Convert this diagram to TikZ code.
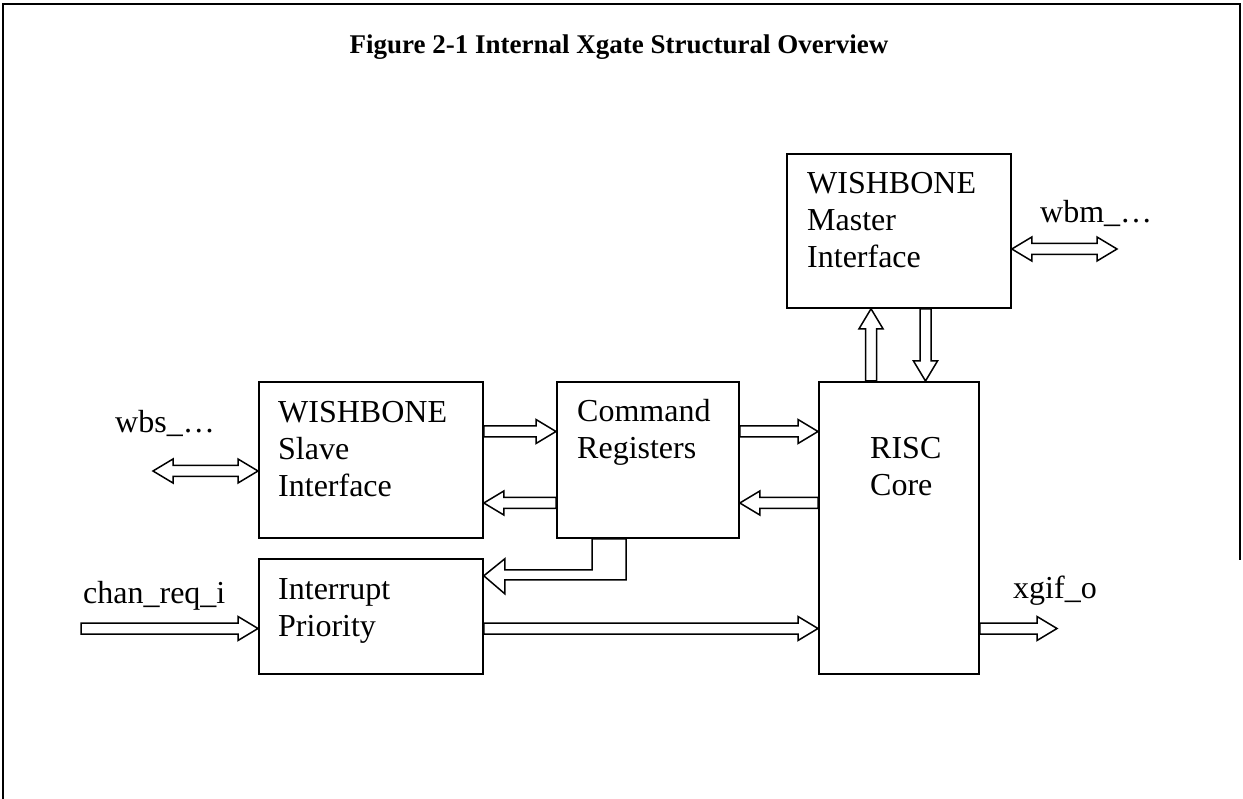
\documentclass[tikz,border=0pt]{standalone}
\usepackage{fontspec}
\setmainfont{Liberation Serif}
\usetikzlibrary{calc}
\tikzset{
  box/.style={draw, line width=1.8pt, rectangle, inner sep=0pt, anchor=north west},
  lbl/.style={font=\fontsize{32}{37}\selectfont, inner sep=0pt, align=left, anchor=north west},
  sig/.style={font=\fontsize{32}{37}\selectfont, inner sep=0pt, anchor=base west},
  barrow/.style={draw, line width=1.5pt, fill=white, line join=miter},
}
% horizontal single block arrow: tail #1, tip #2
\newcommand\harr[2]{%
 \draw[barrow] let \p1=#1, \p2=#2, \n1={2*(\x2>\x1)-1} in
  (\x1,\y1+5.5pt) -- ({\x2-\n1*20pt},\y1+5.5pt) -- ({\x2-\n1*20pt},\y1+12pt) -- (\x2,\y1)
  -- ({\x2-\n1*20pt},\y1-12pt) -- ({\x2-\n1*20pt},\y1-5.5pt) -- (\x1,\y1-5.5pt) -- cycle;}
% vertical single block arrow: tail #1, tip #2
\newcommand\varr[2]{%
 \draw[barrow] let \p1=#1, \p2=#2, \n1={2*(\y2>\y1)-1} in
  (\x1+5.5pt,\y1) -- (\x1+5.5pt,{\y2-\n1*20pt}) -- (\x1+12pt,{\y2-\n1*20pt}) -- (\x1,\y2)
  -- (\x1-12pt,{\y2-\n1*20pt}) -- (\x1-5.5pt,{\y2-\n1*20pt}) -- (\x1-5.5pt,\y1) -- cycle;}
% horizontal double block arrow
\newcommand\hdarr[2]{%
 \draw[barrow] let \p1=#1, \p2=#2, \n1={2*(\x2>\x1)-1} in
  (\x1,\y1) -- ({\x1+\n1*20pt},\y1+12pt) -- ({\x1+\n1*20pt},\y1+5.5pt) -- ({\x2-\n1*20pt},\y1+5.5pt)
  -- ({\x2-\n1*20pt},\y1+12pt) -- (\x2,\y1) -- ({\x2-\n1*20pt},\y1-12pt) -- ({\x2-\n1*20pt},\y1-5.5pt)
  -- ({\x1+\n1*20pt},\y1-5.5pt) -- ({\x1+\n1*20pt},\y1-12pt) -- cycle;}
\begin{document}
\begin{tikzpicture}[x=1pt,y=-1pt]
\useasboundingbox (0,0) rectangle (1243,799);
% frame
\draw[line width=2pt] (3,799) -- (3,4) -- (1240,4) -- (1240,560);
% title
\node[font=\fontsize{27}{31}\selectfont\bfseries, inner sep=0pt] (title) at (619,47) {Figure 2-1 Internal Xgate Structural Overview};
% boxes
\node[box, minimum width=224pt, minimum height=154pt] (master) at (786,153) {};
\node[box, minimum width=224pt, minimum height=156pt] (slave) at (258,381) {};
\node[box, minimum width=182pt, minimum height=156pt] (cmd) at (556,381) {};
\node[box, minimum width=160pt, minimum height=292pt] (risc) at (818,381) {};
\node[box, minimum width=224pt, minimum height=115pt] (intr) at (258,558) {};
% box texts
\node[lbl] (masterT) at (807,172) {WISHBONE\\Master\\Interface};
\node[lbl] (slaveT) at (278,401) {WISHBONE\\Slave\\Interface};
\node[lbl] (cmdT) at (577,399) {Command\\Registers};
\node[lbl] (intrT) at (278,578) {Interrupt\\Priority};
\node[lbl] (riscT) at (870,437) {RISC\\Core};
% signal labels
\node[sig] (wbsT) at (115,433) {wbs\_…};
\node[sig] (wbmT) at (1040,223) {wbm\_…};
\node[sig] (chanT) at (83,603) {chan\_req\_i};
\node[sig] (xgifT) at (1013,598) {xgif\_o};
% free ends
\coordinate (wbsL) at (153,471);
\coordinate (wbmR) at (1117,249);
\coordinate (chanL) at (81,628.5);
\coordinate (xgifR) at (1057,628.5);
% arrows
\hdarr{(wbsL)}{(slave.west |- wbsL)}
\hdarr{(master.east |- wbmR)}{(wbmR)}
\harr{(slave.east |- 0,431.5)}{(cmd.west |- 0,431.5)}
\harr{(cmd.west |- 0,503)}{(slave.east |- 0,503)}
\harr{(cmd.east |- 0,431.5)}{(risc.west |- 0,431.5)}
\harr{(risc.west |- 0,503)}{(cmd.east |- 0,503)}
\harr{(chanL)}{(intr.west |- chanL)}
\harr{(intr.east |- chanL)}{(risc.west |- chanL)}
\harr{(risc.east |- xgifR)}{(xgifR)}
\varr{(risc.north -| 871,0)}{(master.south -| 871,0)}
\varr{(master.south -| 925.5,0)}{(risc.north -| 925.5,0)}
% bent arrow from command registers to interrupt priority
\draw[barrow] let \p1=(cmd.south west), \p2=(intr.east) in
  (\x1+36pt,\y1) -- (\x1+36pt,\y1-31pt) -- (\x2+21pt,\y1-31pt) -- (\x2+21pt,\y1-20pt)
  -- (\x2,\y1-37pt) -- (\x2+21pt,\y1-55pt) -- (\x2+21pt,\y1-41pt) -- (\x1+70pt,\y1-41pt)
  -- (\x1+70pt,\y1) -- cycle;
\end{tikzpicture}
\end{document}
